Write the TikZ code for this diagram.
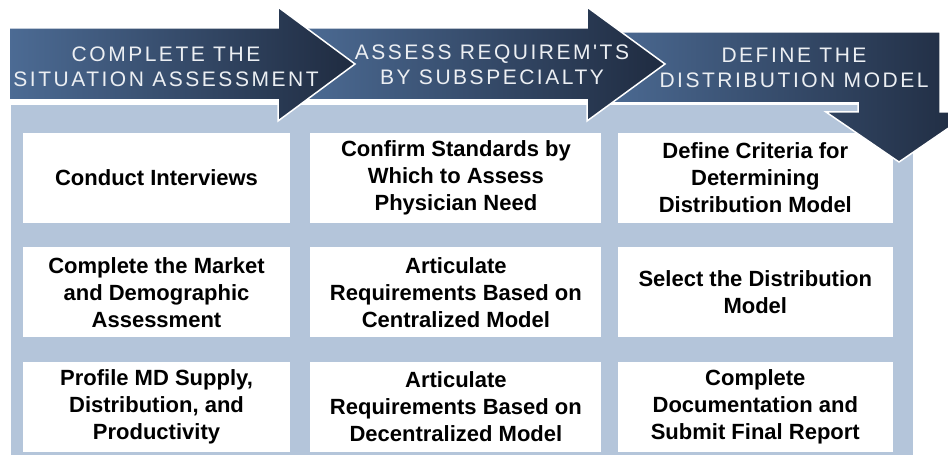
\documentclass[tikz,border=0pt]{standalone}
\usepackage{fontspec}
\setmainfont{Liberation Sans}
\newfontfamily\phasefont[LetterSpace=12]{Liberation Sans}
\usetikzlibrary{positioning}
\definecolor{panelblue}{RGB}{180,197,218}
\definecolor{phaselight}{RGB}{76,107,148}
\definecolor{phasedark}{RGB}{31,43,64}
\definecolor{phasetextc}{RGB}{236,239,243}

\begin{document}
\begin{tikzpicture}[
  x=1pt, y=-1pt,
  node distance=24pt and 20pt,
  task/.style={rectangle, fill=white, minimum height=90pt,
               align=center, inner sep=2pt,
               font=\fontsize{22}{27}\selectfont\bfseries},
  phase/.style={draw=white, line width=1.5pt, line join=miter,
                left color=phaselight, right color=phasedark},
  phaselabel/.style={text=phasetextc, align=center,
                     font=\phasefont\fontsize{21}{25.5}\selectfont}
]
\useasboundingbox (0,0) rectangle (948,465);
% light panel behind the task grid
\fill[panelblue] (11,105) rectangle (913,455);

% task boxes, one column per phase
\node[task, minimum width=267pt] (t11) at (156.5,178) {Conduct Interviews};
\node[task, minimum width=291pt, right=20pt of t11] (t21)
     {Confirm Standards by\\Which to Assess\\Physician Need};
\node[task, minimum width=275pt, right=16pt of t21] (t31)
     {Define Criteria for\\Determining\\Distribution Model};

\node[task, minimum width=267pt, below=of t11] (t12)
     {Complete the Market\\and Demographic\\Assessment};
\node[task, minimum width=291pt, below=of t21] (t22)
     {Articulate\\Requirements Based on\\Centralized Model};
\node[task, minimum width=275pt, below=of t31] (t32)
     {Select the Distribution\\Model};

\node[task, minimum width=267pt, below=of t12] (t13)
     {Profile MD Supply,\\Distribution, and\\Productivity};
\node[task, minimum width=291pt, below=of t22] (t23)
     {Articulate\\Requirements Based on\\Decentralized Model};
\node[task, minimum width=275pt, below=of t32] (t33)
     {Complete\\Documentation and\\Submit Final Report};

% phase arrows, drawn back to front
\begin{scope}
  \clip (0,0) rectangle (948,465);
  \path[phase] (600,32) -- (940,32) -- (940,112) -- (972,112) -- (899,162)
               -- (826,112) -- (858,112) -- (858,103) -- (600,103) -- cycle;
\end{scope}
\path[phase] (300,28) -- (587,28) -- (587,7) -- (665,64) -- (587,121)
             -- (587,100) -- (300,100) -- cycle;
\path[phase] (9,28) -- (278,28) -- (278,7) -- (355,64) -- (278,121)
             -- (278,100) -- (9,100) -- cycle;

\node[phaselabel] (p1) at (166,67) {COMPLETE THE\\SITUATION ASSESSMENT};
\node[phaselabel] (p2) at (492,65) {ASSESS REQUIREM'TS\\BY SUBSPECIALTY};
\node[phaselabel] (p3) at (794,68) {DEFINE THE\\DISTRIBUTION MODEL};
\end{tikzpicture}
\end{document}
